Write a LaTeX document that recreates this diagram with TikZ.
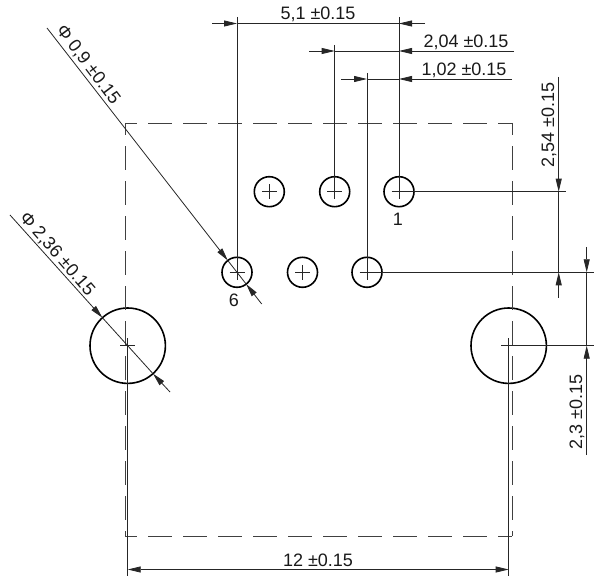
\documentclass[tikz,border=0pt]{standalone}
\usepackage{fontspec}
\setmainfont{Liberation Sans}
\usetikzlibrary{arrows.meta}
\newcommand{\Tol}{±0.15}
\begin{document}
\begin{tikzpicture}[x=0.5pt,y=-0.5pt,
  thinline/.style={line width=0.4pt,color=black!85},
  outline/.style={line width=0.45pt,color=black!75,dash pattern=on 11.7pt off 5.8pt,dash phase=5.85pt},
  dimtip/.style={thinline,-{Triangle[length=6.5pt,width=3pt]}},
  dimboth/.style={thinline,{Triangle[length=6.5pt,width=3pt]}-{Triangle[length=6.5pt,width=3pt]}},
  pinhole/.style={circle,draw,line width=0.8pt,minimum size=15pt,inner sep=0pt,outer sep=0pt},
  mounthole/.style={circle,draw,line width=0.8pt,minimum size=37.7pt,inner sep=0pt,outer sep=0pt},
  dimlabel/.style={inner sep=0pt,font=\fontsize{9}{10}\selectfont,color=black!90}]
\useasboundingbox (0,0) rectangle (600,588);

\node[pinhole] (pin1) at (399,191.7) {};
\node[pinhole] (pin2) at (334.7,191.7) {};
\node[pinhole] (pin3) at (269.3,191.7) {};
\node[pinhole] (pin4) at (367,272.3) {};
\node[pinhole] (pin5) at (302.5,272.3) {};
\node[pinhole] (pin6) at (237,272.3) {};
\node[mounthole] (mountL) at (127.7,345.7) {};
\node[mounthole] (mountR) at (508.7,345.7) {};

\coordinate (box-nw) at (125,123);
\coordinate (box-ne) at (512,123);
\coordinate (box-sw) at (125,536);
\coordinate (box-se) at (512,536);
\draw[outline] (box-nw) -- (box-ne);
\draw[outline] (box-nw) -- (box-sw);
\draw[outline] (box-sw) -- (box-se);
\draw[outline] (box-ne) -- (box-se);

\foreach \hole in {pin1,pin2,pin3,pin4,pin5,pin6,mountL,mountR}
  \draw[thinline] (\hole.center) ++(-7.5,0) -- ++(15,0) (\hole.center) ++(0,-7.5) -- ++(0,15);

\coordinate (top6) at (237,17);
\coordinate (top1) at (399,17);
\coordinate (top2) at (334.7,45);
\coordinate (top4) at (367,73);
\draw[thinline] (top6) -- (pin6.center);
\draw[thinline] (top1) -- (pin1.center);
\draw[thinline] (top2) -- (pin2.center);
\draw[thinline] (top4) -- (pin4.center);

\coordinate (w51-a) at (212,23.5);
\coordinate (w51-l) at (237,23.5);
\coordinate (w51-r) at (399,23.5);
\coordinate (w51-b) at (425,23.5);
\draw[dimtip] (w51-a) -- (w51-l);
\draw[dimtip] (w51-b) -- (w51-r);
\draw[thinline] (w51-l) -- (w51-r);

\coordinate (w204-a) at (309,51);
\coordinate (w204-l) at (334.7,51);
\coordinate (w204-r) at (399,51);
\coordinate (w204-b) at (514,51);
\draw[dimtip] (w204-a) -- (w204-l);
\draw[dimtip] (w204-b) -- (w204-r);
\draw[thinline] (w204-l) -- (w204-r);

\coordinate (w102-a) at (341,79);
\coordinate (w102-l) at (367,79);
\coordinate (w102-r) at (399,79);
\coordinate (w102-b) at (512,79);
\draw[dimtip] (w102-a) -- (w102-l);
\draw[dimtip] (w102-b) -- (w102-r);
\draw[thinline] (w102-l) -- (w102-r);

\coordinate (right1) at (565.7,191.7);
\coordinate (right4) at (594,272.3);
\coordinate (rightM) at (594,345.7);
\draw[thinline] (pin1.center) -- (right1);
\draw[thinline] (pin4.center) -- (right4);
\draw[thinline] (mountR.center) -- (rightM);

\coordinate (h254-a) at (558.7,77);
\coordinate (h254-t) at (558.7,191.7);
\coordinate (h254-b) at (558.7,272.3);
\coordinate (h254-c) at (558.7,298);
\draw[dimtip] (h254-a) -- (h254-t);
\draw[dimtip] (h254-c) -- (h254-b);
\draw[thinline] (h254-t) -- (h254-b);

\coordinate (h23-a) at (586.7,247);
\coordinate (h23-t) at (586.7,272.3);
\coordinate (h23-b) at (586.7,345.7);
\coordinate (h23-c) at (586.7,455);
\draw[dimtip] (h23-a) -- (h23-t);
\draw[dimtip] (h23-c) -- (h23-b);
\draw[thinline] (h23-t) -- (h23-b);

\coordinate (low-l) at (127.7,575.7);
\coordinate (low-r) at (508.7,575.7);
\coordinate (w12-l) at (127.7,569.5);
\coordinate (w12-r) at (508.7,569.5);
\draw[thinline] (mountL.center) -- (low-l);
\draw[thinline] (mountR.center) -- (low-r);
\draw[dimboth] (w12-l) -- (w12-r);

\coordinate (d09-a) at (47,28);
\coordinate (d09-t) at (227.8,260.5);
\coordinate (d09-u) at (246.2,284.1);
\coordinate (d09-b) at (261.7,304);
\draw[dimtip] (d09-a) -- (d09-t);
\draw[dimtip] (d09-b) -- (d09-u);
\draw[thinline] (d09-t) -- (d09-u);

\coordinate (d236-a) at (10,215);
\coordinate (d236-t) at (102.4,317.7);
\coordinate (d236-u) at (153,373.7);
\coordinate (d236-b) at (170,392);
\draw[dimtip] (d236-a) -- (d236-t);
\draw[dimtip] (d236-b) -- (d236-u);
\draw[thinline] (d236-t) -- (d236-u);

\node[dimlabel] (t51) at (318,14.5) {5,1 \Tol};
\node[dimlabel] (t204) at (466,42) {2,04 \Tol};
\node[dimlabel] (t102) at (464,70) {1,02 \Tol};
\node[dimlabel,rotate=90] (t254) at (549,125) {2,54 \Tol};
\node[dimlabel,rotate=90] (t23) at (577,412) {2,3 \Tol};
\node[dimlabel] (t12) at (318,560.7) {12 \Tol};
\node[dimlabel,rotate=-53] (t09) at (88,65) {Φ 0,9 \Tol};
\node[dimlabel,rotate=-49] (t236) at (57,254) {Φ 2,36 \Tol};
\node[dimlabel] (label1) at (398,219) {1};
\node[dimlabel] (label6) at (234,300) {6};
\end{tikzpicture}
\end{document}
